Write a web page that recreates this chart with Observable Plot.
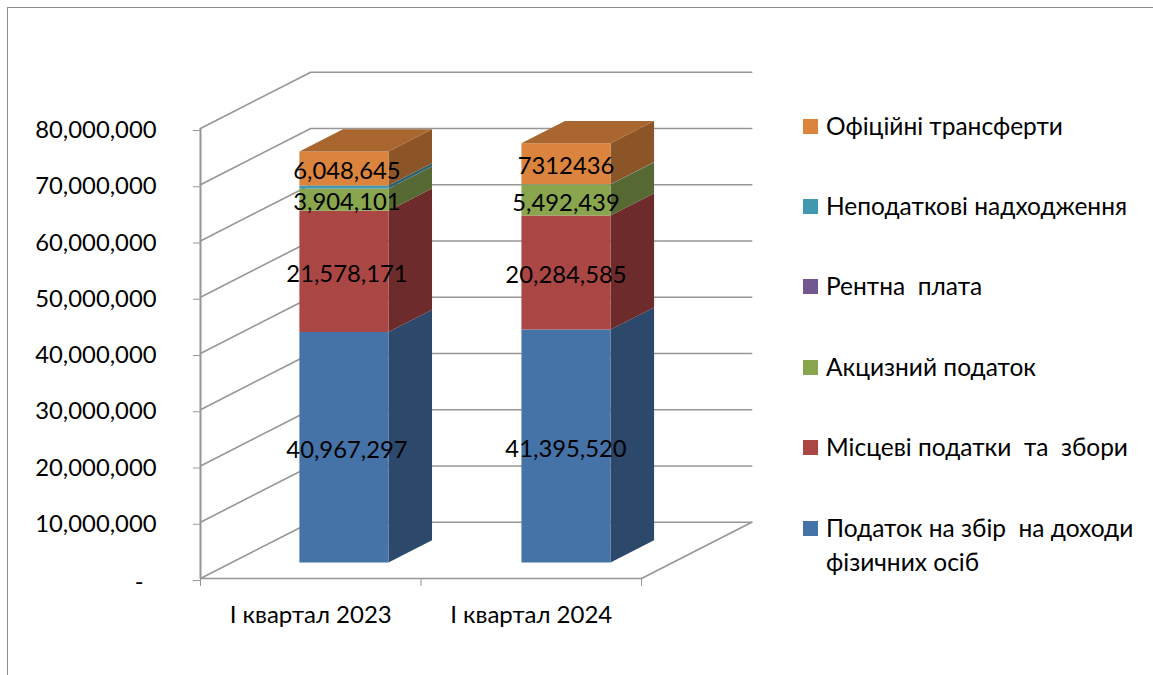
<!DOCTYPE html>
<html lang="uk">
<head>
<meta charset="utf-8">
<script src="https://cdn.jsdelivr.net/npm/d3@7"></script>
<script src="https://cdn.jsdelivr.net/npm/@observablehq/plot@0.6"></script>
<style>
  html, body { margin: 0; padding: 0; background: #fff; }
  #page { position: relative; width: 1153px; height: 675px; overflow: hidden; font-family: Lato, "Noto Sans", sans-serif; color: #000; }
  #page svg { display: block; position: absolute; left: 0; top: 0; }
  #frame { position: absolute; left: 7px; top: 7px; right: -4px; bottom: -4px; border-left: 1.5px solid #8c8c8c; border-top: 1.5px solid #8c8c8c; }
  .item { position: absolute; left: 803px; }
  .sw { position: absolute; left: 0; width: 15px; height: 15px; top: 0; }
  .lb { position: absolute; left: 23px; top: -10px; font-size: 24.5px; line-height: 34px; white-space: pre; }
</style>
</head>
<body>
<div id="page"><div id="frame"></div></div>
<script>
const categories = ["I квартал 2023", "I квартал 2024"];
const seriesNames = ["Податок на збір  на доходи\nфізичних осіб", "Місцеві податки  та  збори", "Акцизний податок", "Рентна  плата", "Неподаткові надходження", "Офіційні трансферти"];
const pit = [40967297, 41395520];
const localTaxes = [21578171, 20284585];
const excise = [3904101, 5492439];
const rent = [20000, 20000];
const nonTax = [550000, 40000];
const transfers = [6048645, 7312436];
const labelsPit = ["40,967,297", "41,395,520"];
const labelsLocal = ["21,578,171", "20,284,585"];
const labelsExcise = ["3,904,101", "5,492,439"];
const labelsTransfers = ["6,048,645", "7312436"];
const yTicks = [0, 10000000, 20000000, 30000000, 40000000, 50000000, 60000000, 70000000, 80000000];

const frontColors = ["#4572A7", "#AA4643", "#89A54E", "#71588F", "#4198AF", "#DB843D"];
const sideColors = ["#2C486B", "#6D2C2B", "#566932", "#48385B", "#2A6170", "#8C5527"];
const topColor = "#A9662E";
const gridColor = "#969696";

// 3-D look: depth 1 = the back wall, half a category right and 10M up
const depthX = 0.5, depthY = 10000000;
const barFront = 0.285, barBack = 0.68;
const barLeft = [0.306, 1.313], barWidth = 0.404;
const labelNudge = [3, 0];
const at = (c, v, d) => ({x: c + d * depthX, y: v + d * depthY});

const series = [pit, localTaxes, excise, rent, nonTax, transfers];
const polygons = [];
categories.forEach((_, i) => {
  let base = 0;
  const L = barLeft[i], R = L + barWidth;
  series.forEach((s, k) => {
    const t = base + s[i];
    polygons.push({fill: sideColors[k], pts: [at(R, base, barFront), at(R, base, barBack), at(R, t, barBack), at(R, t, barFront), at(R, base, barFront)]});
    polygons.push({fill: frontColors[k], pts: [at(L, base, barFront), at(R, base, barFront), at(R, t, barFront), at(L, t, barFront), at(L, base, barFront)]});
    base = t;
  });
  polygons.push({fill: topColor, pts: [at(L, base, barFront), at(R, base, barFront), at(R, base, barBack), at(L, base, barBack), at(L, base, barFront)]});
});

const grid = yTicks.map(v => [at(0, v, 0), at(0, v, 1), at(2, v, 1)]);
const floorEdges = [[at(0, 0, 0), at(2, 0, 0), at(2, 0, 1)]];

const labels = [[], []];
categories.forEach((_, i) => {
  const c = barLeft[i] + barWidth / 2;
  let base = 0;
  series.forEach((s, k) => {
    const txt = [labelsPit, labelsLocal, labelsExcise, null, null, labelsTransfers][k];
    if (txt) labels[i].push({...at(c, base + s[i] / 2, barFront), text: txt[i]});
    base += s[i];
  });
});

const fs = 23.8;
const chart = Plot.plot({
  width: 1153, height: 675,
  marginLeft: 200, marginRight: 512, marginTop: 128, marginBottom: 97,
  style: {background: "transparent", fontFamily: 'Lato, "Noto Sans", sans-serif', overflow: "visible"},
  x: {domain: [0, 2], axis: null},
  y: {domain: [0, 80000000], axis: null},
  marks: [
    ...grid.map(g => Plot.line(g, {x: "x", y: "y", stroke: gridColor, strokeWidth: 1.6})),
    ...floorEdges.map(g => Plot.line(g, {x: "x", y: "y", stroke: gridColor, strokeWidth: 1.6})),
    Plot.ruleX([0], {y1: 0, y2: 80000000, stroke: gridColor, strokeWidth: 2}),
    Plot.axisY({ticks: yTicks, label: null, tickSize: 7, tickPadding: 37, stroke: gridColor, fill: "black", fontSize: fs, dy: 2,
      tickFormat: v => v === 0 ? "" : d3.format(",")(v)}),
    Plot.text([0], {x: 0, y: d => d, text: () => "-", dx: -57, dy: 4, textAnchor: "end", fontSize: fs, fill: "black"}),
    Plot.axisX({ticks: [0, 1, 2], label: null, tickSize: 8, stroke: gridColor, tickFormat: () => ""}),
    Plot.text(categories, {x: (d, i) => i + 0.5, y: () => 0, text: d => d, dy: 37, fontSize: 24, fill: "black"}),
    ...polygons.map(p => Plot.line(p.pts, {x: "x", y: "y", fill: p.fill, stroke: "none", curve: "linear"})),
    ...labels.map((l, i) => Plot.text(l, {x: "x", y: "y", text: "text", fontSize: fs, fill: "black", dx: labelNudge[i], dy: 3}))
  ]
});
const page = document.getElementById("page");
page.insertBefore(chart, page.firstChild);

const tops = [521, 440, 360, 279, 199, 119];
seriesNames.forEach((name, k) => {
  const it = document.createElement("div");
  it.className = "item";
  it.style.top = tops[k] + "px";
  const sw = document.createElement("div");
  sw.className = "sw";
  sw.style.background = frontColors[k];
  const lb = document.createElement("div");
  lb.className = "lb";
  lb.textContent = name;
  it.append(sw, lb);
  page.append(it);
});
</script>
</body>
</html>
